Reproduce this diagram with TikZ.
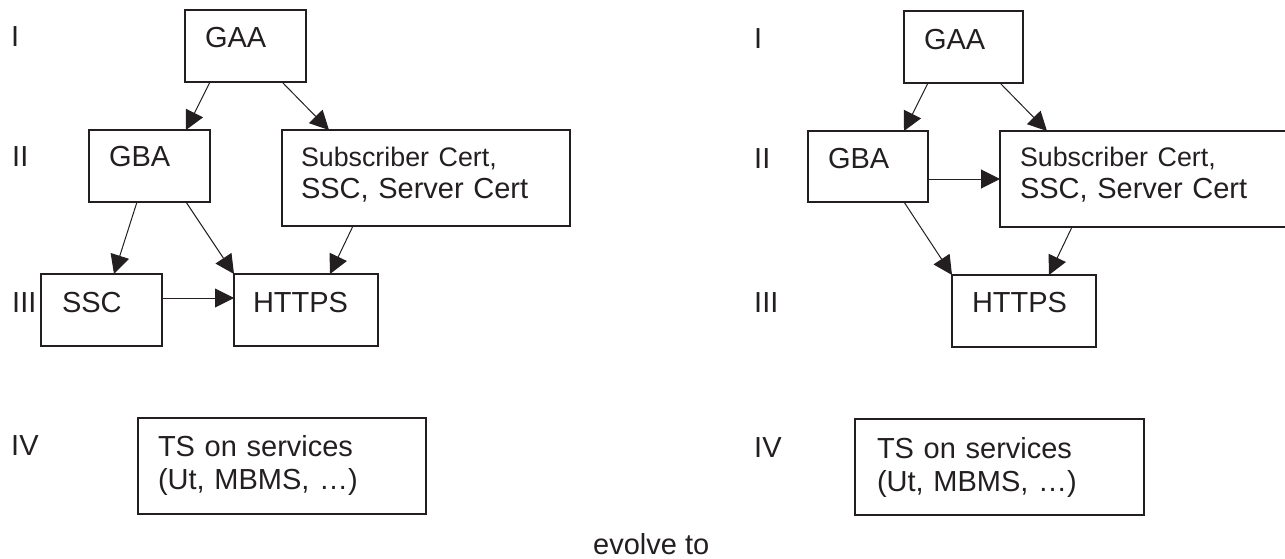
\documentclass[tikz,border=0pt]{standalone}
\usepackage{fontspec}
\setmainfont{Liberation Sans}
\usetikzlibrary{arrows.meta,positioning}
\definecolor{ink}{RGB}{35,31,32}
\tikzset{
    block/.style = {draw=ink, rectangle, line width=1.3pt,
        anchor=north west, inner ysep=0pt, outer sep=0pt,
        align=left, text=ink, font=\fontsize{29}{32}\selectfont},
    lbl/.style = {anchor=base west, inner sep=0pt, text=ink,
        font=\fontsize{29}{32}\selectfont},
    arrow/.style = {draw=ink, line width=1pt, ->}
}
\begin{document}
\begin{tikzpicture}[x=1pt,y=-1pt,>={Triangle[length=19pt,width=19pt]}]
    \useasboundingbox (0,0) rectangle (1285,559);
    % left: before
    \node [lbl] (one) at (11,47) {I};
    \node [lbl] (two) at (12,167) {II};
    \node [lbl] (three) at (12,312) {III};
    \node [lbl] (four) at (11,455) {IV};
    \node [block, text width=81pt, inner xsep=20pt, text height=38pt, text depth=34pt] (gaa) at (185,10) {GAA};
    \node [block, text width=81pt, inner xsep=20pt, text height=37pt, text depth=35pt] (gba) at (89,130) {GBA};
    \node [block, text width=250pt, inner xsep=19pt, text height=37pt, text depth=59pt] (sub) at (282,130)
        {{\fontsize{26.8}{32}\selectfont Subscriber Cert,}\\SSC, Server Cert};
    \node [block, text width=79pt, inner xsep=21pt, text height=38pt, text depth=34pt] (ssc) at (41,274) {SSC};
    \node [block, text width=106pt, inner xsep=19pt, text height=38pt, text depth=34pt] (https) at (234,274) {HTTPS};
    \node [block, text width=248pt, inner xsep=20pt, text height=38pt, text depth=58pt,
        font=\fontsize{29}{33.5}\selectfont] (ts) at (138,418) {TS on services\\(Ut, MBMS, …)};
    \draw [arrow] ([xshift=25pt]gaa.south west) -- ([xshift=97pt]gba.north west);
    \draw [arrow] ([xshift=97pt]gaa.south west) -- ([xshift=47pt]sub.north west);
    \draw [arrow] ([xshift=48pt]gba.south west) -- ([xshift=73pt]ssc.north west);
    \draw [arrow] ([xshift=97pt]gba.south west) -- (https.north west);
    \draw [arrow] ([xshift=71pt]sub.south west) -- ([xshift=96pt]https.north west);
    \draw [arrow] ([yshift=-24pt]ssc.north east) -- ([yshift=-24pt]https.north west);
    % right: after
    \node [lbl] (one2) at (754,49) {I};
    \node [lbl] (two2) at (754,168) {II};
    \node [lbl] (three2) at (754,312) {III};
    \node [lbl] (four2) at (754,457) {IV};
    \node [block, text width=79pt, inner xsep=20pt, text height=38.5pt, text depth=33.5pt] (gaa2) at (904,11) {GAA};
    \node [block, text width=80pt, inner xsep=20pt, text height=37pt, text depth=34pt] (gba2) at (808,131) {GBA};
    \node [block, text width=260pt, inner xsep=20pt, text height=36pt, text depth=60pt] (sub2) at (1000,131)
        {{\fontsize{26.8}{32}\selectfont Subscriber Cert,}\\SSC, Server Cert};
    \node [block, text width=104pt, inner xsep=20pt, text height=37.5pt, text depth=34.5pt] (https2) at (952,275) {HTTPS};
    \node [block, text width=245pt, inner xsep=22pt, text height=39pt, text depth=57pt,
        font=\fontsize{29}{33.5}\selectfont] (ts2) at (855,419) {TS on services\\(Ut, MBMS, …)};
    \draw [arrow] ([xshift=24pt]gaa2.south west) -- ([xshift=96pt]gba2.north west);
    \draw [arrow] ([xshift=96pt]gaa2.south west) -- ([xshift=47pt]sub2.north west);
    \draw [arrow] ([yshift=-48pt]gba2.north east) -- ([yshift=-48pt]sub2.north west);
    \draw [arrow] ([xshift=96pt]gba2.south west) -- (https2.north west);
    \draw [arrow] ([xshift=72pt]sub2.south west) -- ([xshift=97pt]https2.north west);
    % caption
    \node [lbl] (evolve) at (593,554) {evolve to};
\end{tikzpicture}
\end{document}
